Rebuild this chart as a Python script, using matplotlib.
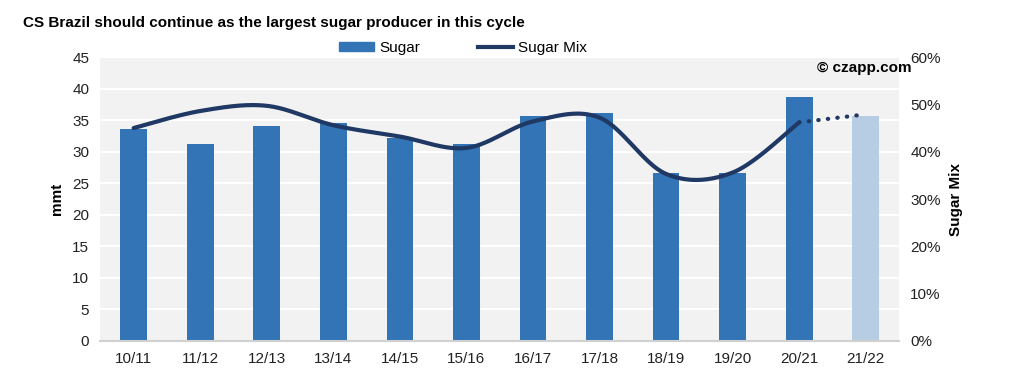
import numpy as np
import matplotlib.pyplot as plt
from matplotlib.lines import Line2D
from matplotlib.patches import Patch
from matplotlib.ticker import FuncFormatter

plt.rcParams['font.family'] = ['Liberation Sans', 'DejaVu Sans']

seasons = ['10/11', '11/12', '12/13', '13/14', '14/15', '15/16',
           '16/17', '17/18', '18/19', '19/20', '20/21', '21/22']
sugar = [33.6, 31.3, 34.1, 34.6, 32.2, 31.3, 35.6, 36.1, 26.6, 26.7, 38.6, 35.6]
sugar_mix = [45.0, 48.6, 49.7, 45.6, 43.2, 40.8, 46.4, 47.2, 35.3, 35.6, 46.2, 47.9]

bar_color = '#3274b5'
forecast_color = '#b6cde3'
line_color = '#1f3864'


def smooth(xs, ys, n=40):
    # Excel-like smoothed line (Catmull-Rom style bezier)
    xs = np.asarray(xs, float)
    ys = np.asarray(ys, float)
    out_x, out_y = [], []
    for i in range(len(xs) - 1):
        p0 = np.array([xs[max(i - 1, 0)], ys[max(i - 1, 0)]])
        p1 = np.array([xs[i], ys[i]])
        p2 = np.array([xs[i + 1], ys[i + 1]])
        p3 = np.array([xs[min(i + 2, len(xs) - 1)], ys[min(i + 2, len(xs) - 1)]])
        c1 = p1 + (p2 - p0) / 6
        c2 = p2 - (p3 - p1) / 6
        t = np.linspace(0, 1, n)[:, None]
        pts = ((1 - t) ** 3 * p1 + 3 * (1 - t) ** 2 * t * c1
               + 3 * (1 - t) * t ** 2 * c2 + t ** 3 * p2)
        out_x.extend(pts[:, 0])
        out_y.extend(pts[:, 1])
    return np.array(out_x), np.array(out_y)


fig = plt.figure(figsize=(10.24, 3.78), dpi=100)
ax = fig.add_axes([0.098, 0.098, 0.78, 0.751])
ax.set_facecolor('#f2f2f2')
x = np.arange(len(seasons))
colors = [bar_color] * (len(seasons) - 1) + [forecast_color]
ax.bar(x, sugar, width=0.4, color=colors, zorder=2)
ax.set_ylim(0, 45)
ax.set_yticks(range(0, 46, 5))
ax.set_xlim(-0.5, len(seasons) - 0.5)
ax.set_xticks(x)
ax.set_xticklabels(seasons)
ax.grid(axis='y', color='white', linewidth=1.5, zorder=1)
ax.set_axisbelow(True)
for s in ['top', 'right', 'left']:
    ax.spines[s].set_visible(False)
ax.spines['bottom'].set_color('#d0d0d0')
ax.spines['bottom'].set_linewidth(1.5)
ax.tick_params(length=0, labelsize=11, colors='#222222', pad=8)
ax.set_ylabel('mmt', fontsize=11, fontweight='bold', labelpad=6)

ax2 = ax.twinx()
ax2.set_ylim(0, 60)
ax2.set_yticks(range(0, 61, 10))
ax2.yaxis.set_major_formatter(FuncFormatter(lambda v, p: f'{v:.0f}%'))
for s in ax2.spines.values():
    s.set_visible(False)
ax2.tick_params(length=0, labelsize=11, colors='#222222', pad=8)
ax2.set_ylabel('Sugar Mix', fontsize=11, fontweight='bold', labelpad=6)

sx, sy = smooth(x[:-1], sugar_mix[:-1])
ax2.plot(sx, sy, color=line_color, linewidth=3, solid_capstyle='round', zorder=3)
ax2.plot(x[-2:], sugar_mix[-2:], color=line_color, linewidth=3,
         linestyle=(0, (0.1, 2.2)), dash_capstyle='round', zorder=3)

fig.text(0.022, 0.94, 'CS Brazil should continue as the largest sugar producer in this cycle',
         fontsize=11, fontweight='bold', va='center')
ax.text(1.016, 0.985, '© czapp.com', transform=ax.transAxes, ha='right', va='top',
        fontsize=11, fontweight='bold')

handles = [Patch(color=bar_color, label='Sugar'),
           Line2D([0], [0], color=line_color, linewidth=3, label='Sugar Mix')]
fig.legend(handles=handles, loc='center', bbox_to_anchor=(0.452, 0.873), ncol=2,
           frameon=False, fontsize=11, handlelength=2.3, handleheight=0.5,
           columnspacing=3.8, handletextpad=0.3)

fig.savefig('out.png', dpi=100)
